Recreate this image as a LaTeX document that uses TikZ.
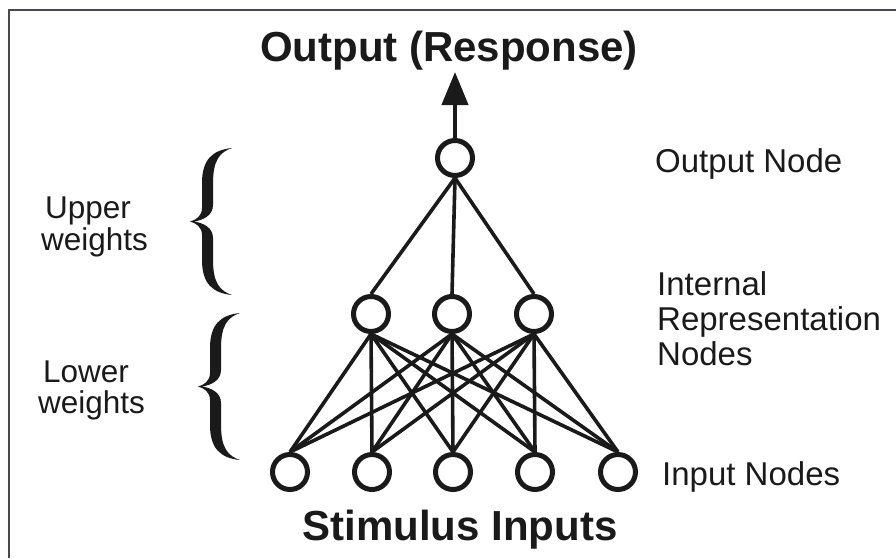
\documentclass[tikz,border=0pt]{standalone}
\usepackage{fontspec}
\setmainfont{Liberation Sans}
\usetikzlibrary{arrows.meta}
\definecolor{ink}{HTML}{1A1A1A}
\definecolor{framec}{HTML}{4A4658}
\begin{document}
\begin{tikzpicture}[x=1pt,y=-1pt,
  neuron/.style={circle,draw=ink,line width=5pt,minimum size=35pt,inner sep=0pt},
  link/.style={draw=ink,line width=3.6pt},
  lbl/.style={text=ink,font=\fontsize{33}{37}\selectfont,inner sep=0pt,anchor=base west},
  side/.style={text=ink,font=\fontsize{31.5}{34}\selectfont,inner sep=0pt,anchor=base west},
  big/.style={text=ink,font=\bfseries\fontsize{42}{46}\selectfont,inner sep=0pt,anchor=base},
  frameline/.style={draw=framec,line width=2pt},
  curly/.pic={\fill[ink] (42,0) .. controls (22,2) and (12,12) .. (12,35) -- (12,60)
      .. controls (12,68) and (6,72) .. (0,73.5)
      .. controls (6,75) and (12,79) .. (12,87) -- (12,112)
      .. controls (12,135) and (22,145) .. (42,147)
      .. controls (30,143) and (23,135) .. (23,112) -- (23,90)
      .. controls (23,80) and (14,75) .. (4,73.5)
      .. controls (14,72) and (23,67) .. (23,57) -- (23,35)
      .. controls (23,12) and (30,4) .. (42,0) -- cycle;}]
\useasboundingbox (0,0) rectangle (896,558);
\draw[frameline] (9,558) -- (9,10) -- (896,10);

% nodes
\node[neuron] (o) at (455,158) {};
\node[neuron] (h1) at (371,314) {};
\node[neuron] (h2) at (452,314) {};
\node[neuron] (h3) at (534,314) {};
\node[neuron] (i1) at (290,472) {};
\node[neuron] (i2) at (372,472) {};
\node[neuron] (i3) at (453,472) {};
\node[neuron] (i4) at (535,472) {};
\node[neuron] (i5) at (618,472) {};

% connections
\foreach \h in {h1,h2,h3} \draw[link] (o.south) -- (\h.north);
\foreach \h in {h1,h2,h3} \foreach \i in {i1,i2,i3,i4,i5} \draw[link] (\h.south) -- (\i.north);

% output arrow
\coordinate (tip) at (455,72);
\draw[draw=ink,line width=4.2pt,-{Triangle[length=33pt,width=26pt]}] (o.north) -- (tip);

% braces
\pic at (190,148) {curly};
\pic at (198,313) {curly};

% texts
\node[big] (title) at (449,61) {Output (Response)};
\node[big] (stim) at (460,540) {Stimulus Inputs};
\node[lbl] (lo) at (655,172) {Output Node};
\node[lbl] (lh1) at (657,295) {Internal};
\node[lbl] (lh2) at (657,330) {Representation};
\node[lbl] (lh3) at (657,365) {Nodes};
\node[lbl] (li) at (662,485) {Input Nodes};
\node[side] (uw1) at (45,218) {Upper};
\node[side] (uw2) at (41,250) {weights};
\node[side] (lw1) at (43,382) {Lower};
\node[side] (lw2) at (38,413) {weights};
\end{tikzpicture}
\end{document}
